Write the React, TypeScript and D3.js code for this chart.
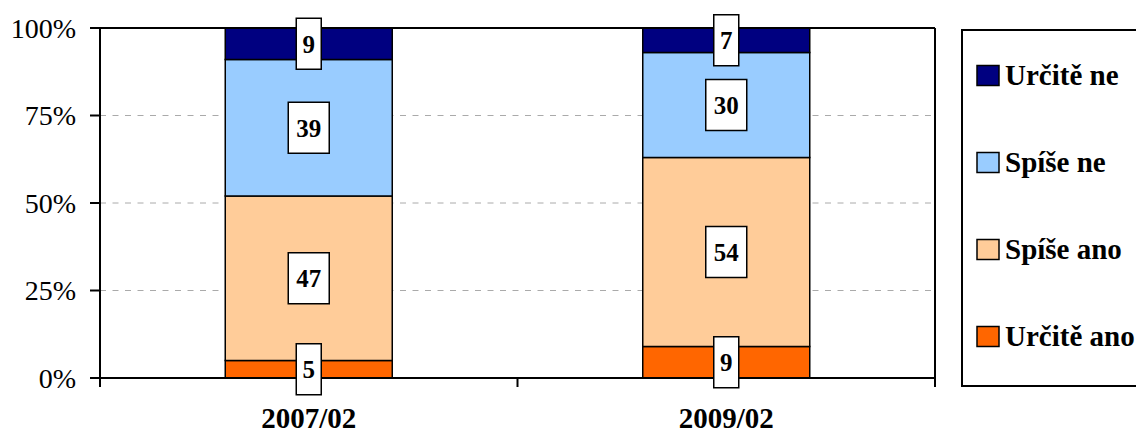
import React from "react";
import * as d3 from "d3";

// categories and series (percent shares, bottom to top of the stack)
const periods = ["2007/02", "2009/02"];
const seriesNames = ["Určitě ano", "Spíše ano", "Spíše ne", "Určitě ne"];
const urciteAno = [5, 9];
const spiseAno = [47, 54];
const spiseNe = [39, 30];
const urciteNe = [9, 7];
const yTicks = [0, 25, 50, 75, 100];

const colors: Record<string, string> = {
  "Určitě ano": "#FF6600",
  "Spíše ano": "#FFCC99",
  "Spíše ne": "#99CCFF",
  "Určitě ne": "#000080",
};

const width = 1136;
const height = 434;
const margin = { top: 28, right: 201, bottom: 56, left: 100 };
const font = "Liberation Serif";

const App: React.FC = () => {
  const x0 = margin.left;
  const x1 = width - margin.right;
  const yBottom = height - margin.bottom;

  // table built from the named arrays for d3.stack
  const rows = periods.map((p, i) => ({
    period: p,
    "Určitě ano": urciteAno[i],
    "Spíše ano": spiseAno[i],
    "Spíše ne": spiseNe[i],
    "Určitě ne": urciteNe[i],
  }));

  const stacked = d3.stack<any>().keys(seriesNames)(rows);

  const xScale = d3
    .scaleBand()
    .domain(periods)
    .range([x0, x1])
    .paddingInner(0.6)
    .paddingOuter(0.3);

  const yScale = d3.scaleLinear().domain([0, 100]).range([yBottom, margin.top]);

  const step = xScale.step();
  const xTickPositions = [x0, x0 + step, x1];

  const legendOrder = [...seriesNames].reverse();
  const legendY = d3
    .scalePoint()
    .domain(legendOrder)
    .range([75.5, 336.5]);

  return (
    <svg
      width={width}
      height={height}
      style={{ position: "absolute", left: 0, top: 0, background: "#fff" }}
    >
      {/* gridlines */}
      {yTicks
        .filter((t) => t > 0 && t < 100)
        .map((t) => (
          <line
            key={`g${t}`}
            x1={x0}
            x2={x1}
            y1={yScale(t)}
            y2={yScale(t)}
            stroke="#AAAAAA"
            strokeWidth={1}
            strokeDasharray="6,6.5"
          />
        ))}

      {/* bars */}
      {stacked.map((layer) =>
        layer.map((d, i) => (
          <rect
            key={`${layer.key}-${i}`}
            x={xScale(periods[i])}
            y={yScale(d[1])}
            width={xScale.bandwidth()}
            height={yScale(d[0]) - yScale(d[1])}
            fill={colors[layer.key]}
            stroke="#000"
            strokeWidth={1.5}
          />
        ))
      )}

      {/* plot frame and axes */}
      <line x1={x0} x2={x1} y1={margin.top} y2={margin.top} stroke="#000" strokeWidth={2} />
      <line x1={x1} x2={x1} y1={margin.top} y2={yBottom + 9} stroke="#000" strokeWidth={2} />
      <line x1={x0} x2={x0} y1={margin.top} y2={yBottom + 9} stroke="#000" strokeWidth={2} />
      <line x1={x0} x2={x1} y1={yBottom} y2={yBottom} stroke="#000" strokeWidth={2} />
      {xTickPositions.map((xp, i) => (
        <line key={`xt${i}`} x1={xp} x2={xp} y1={yBottom} y2={yBottom + 9} stroke="#000" strokeWidth={2} />
      ))}
      {yTicks.map((t) => (
        <g key={`yt${t}`}>
          <line x1={x0 - 10} x2={x0} y1={yScale(t)} y2={yScale(t)} stroke="#000" strokeWidth={2} />
          <text
            x={x0 - 24}
            y={yScale(t)}
            dy="0.35em"
            textAnchor="end"
            fontFamily={font}
            fontSize={28}
            fill="#000"
          >
            {t}%
          </text>
        </g>
      ))}

      {/* category labels */}
      {periods.map((p) => (
        <text
          key={p}
          x={(xScale(p) as number) + xScale.bandwidth() / 2}
          y={428}
          textAnchor="middle"
          fontFamily={font}
          fontSize={29}
          fontWeight="bold"
          fill="#000"
        >
          {p}
        </text>
      ))}

      {/* value labels */}
      {stacked.map((layer) =>
        layer.map((d, i) => {
          const v = d[1] - d[0];
          const label = String(v);
          const cx = (xScale(periods[i]) as number) + xScale.bandwidth() / 2;
          const cy = yScale((d[0] + d[1]) / 2);
          const w = 16 * label.length + 9;
          const h = 51;
          return (
            <g key={`l-${layer.key}-${i}`}>
              <rect
                x={cx - w / 2}
                y={cy - h / 2}
                width={w}
                height={h}
                fill="#fff"
                stroke="#000"
                strokeWidth={1.5}
              />
              <text
                x={cx}
                y={cy}
                dy="0.36em"
                textAnchor="middle"
                fontFamily={font}
                fontSize={25}
                fontWeight="bold"
                fill="#000"
              >
                {label}
              </text>
            </g>
          );
        })
      )}

      {/* legend */}
      <rect x={962} y={30} width={220} height={356} fill="#fff" stroke="#000" strokeWidth={2} />
      {legendOrder.map((name) => {
        const cy = legendY(name) as number;
        return (
          <g key={`lg-${name}`}>
            <rect x={977} y={cy - 10} width={22} height={20} fill={colors[name]} stroke="#000" strokeWidth={1.5} />
            <text
              x={1005}
              y={cy + 9.5}
              fontFamily={font}
              fontSize={29}
              fontWeight="bold"
              fill="#000"
            >
              {name}
            </text>
          </g>
        );
      })}
    </svg>
  );
};

export default App;
